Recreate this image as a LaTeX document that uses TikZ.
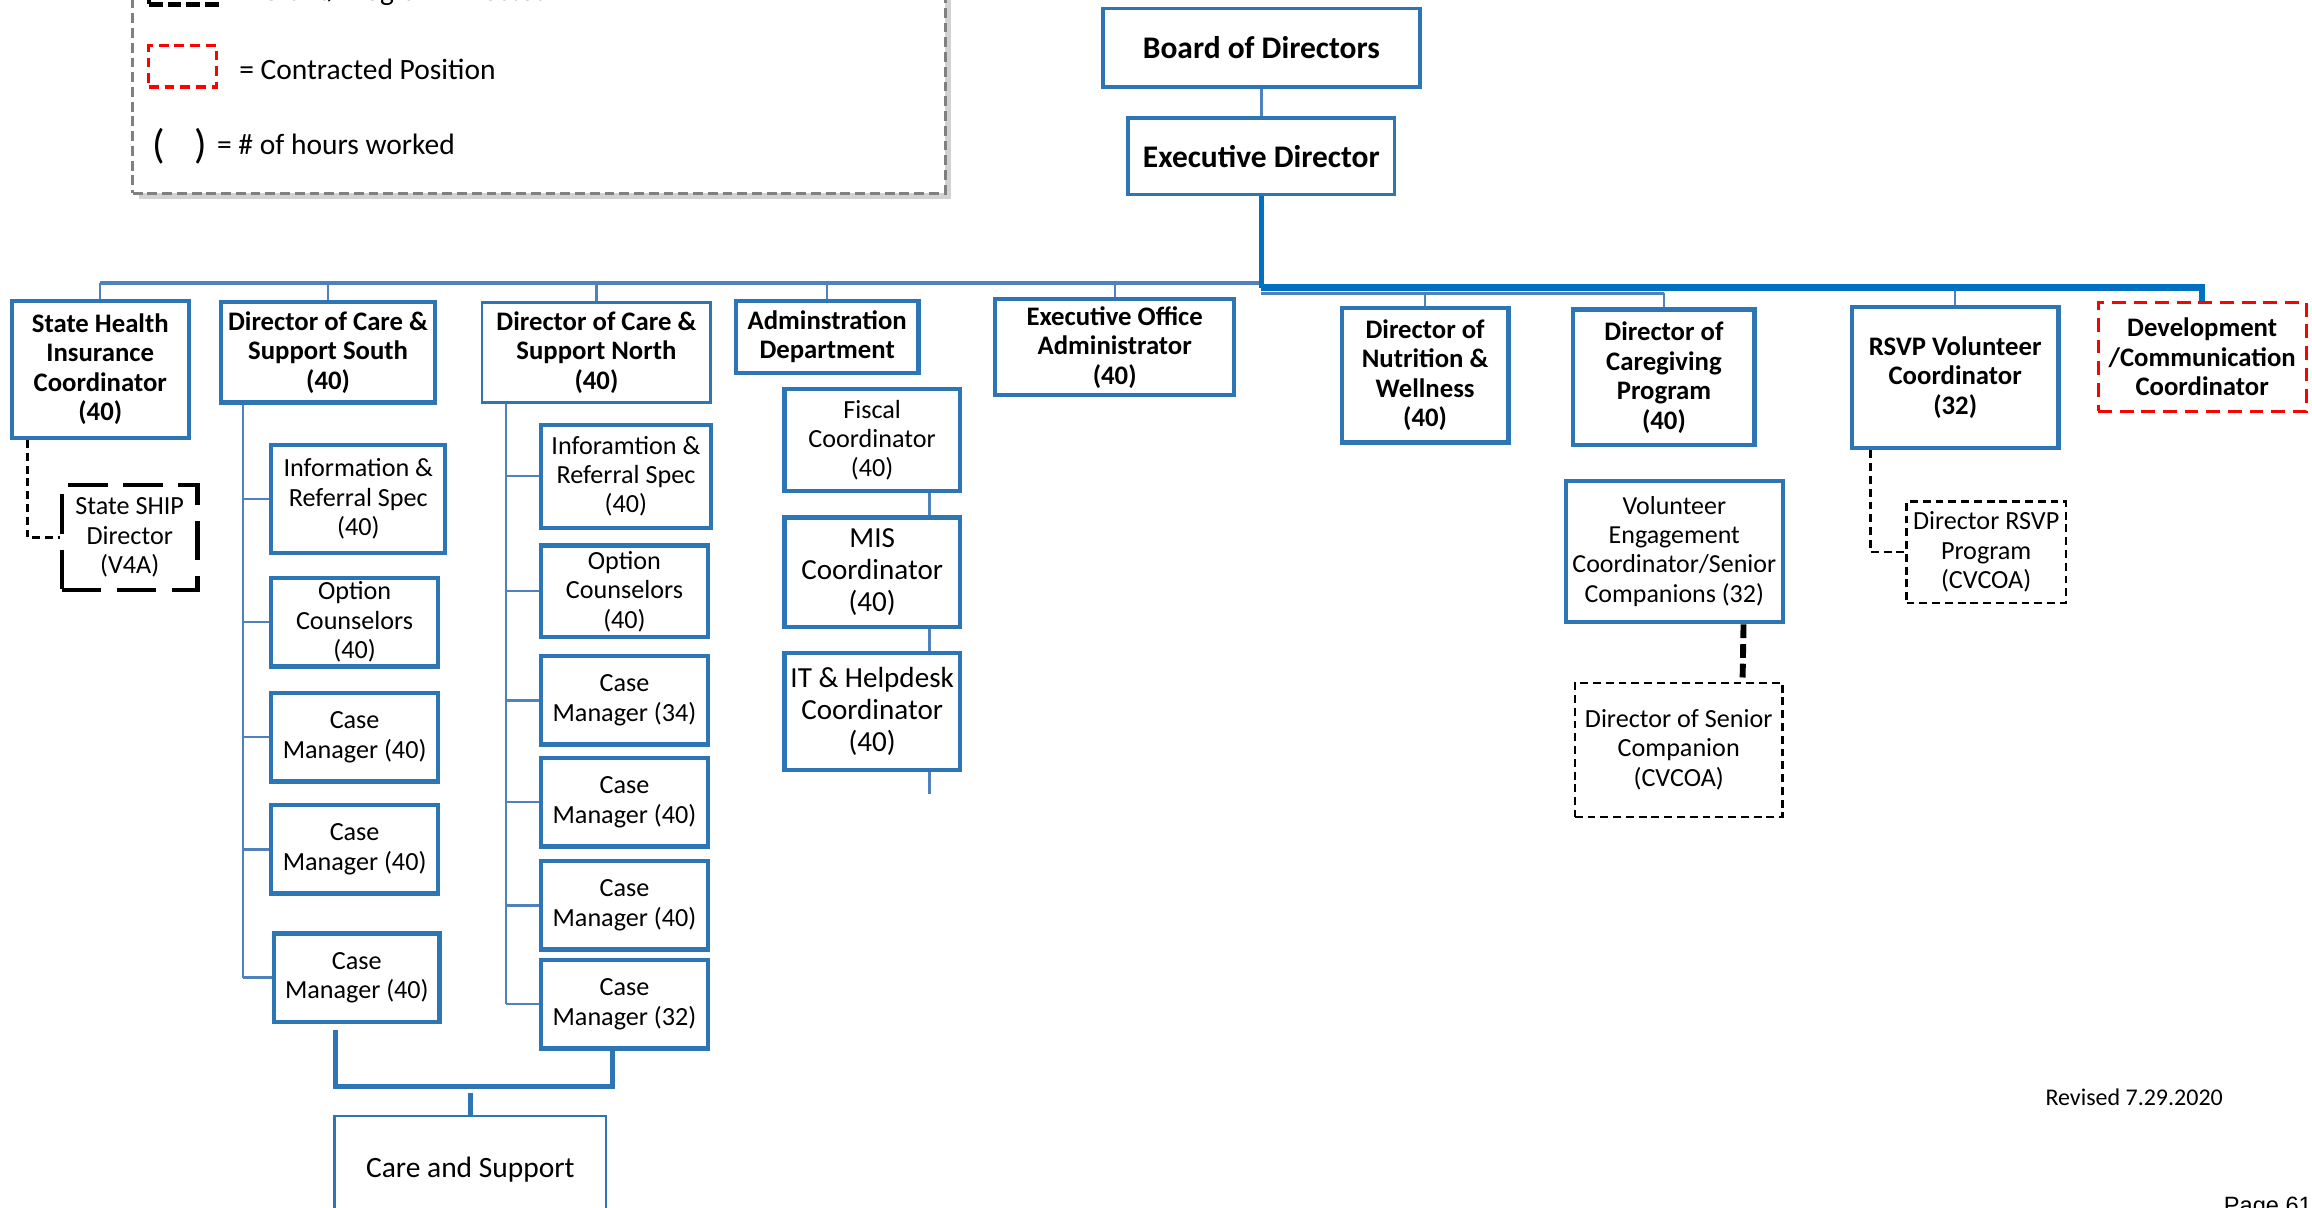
\documentclass[tikz,border=0pt]{standalone}
\usepackage{fontspec}
\setmainfont{Carlito}
\newfontfamily\arialf{Liberation Sans}
\usetikzlibrary{calc,shadows}
\definecolor{boxblue}{RGB}{46,117,182}
\definecolor{linkblue}{RGB}{79,129,189}
\definecolor{busblue}{RGB}{0,112,192}
\definecolor{leggray}{RGB}{128,128,128}
\begin{document}
\begin{tikzpicture}[x=0.75pt,y=-0.75pt,
  sz/.style 2 args={minimum width=#1*0.75pt, minimum height=#2*0.75pt},
  box/.style={draw=boxblue, line width=2.2pt, fill=white, align=center, inner sep=1pt,
    font=\fontsize{13.3}{15}\selectfont},
  thinbox/.style={box, line width=1.3pt},
  bbox/.style={box, font=\bfseries\fontsize{13.6}{15}\selectfont},
  topbox/.style={box, line width=1.6pt, font=\bfseries\fontsize{16}{18}\selectfont},
  grantbox/.style={draw=black, line width=1.2pt, dash pattern=on 4pt off 2.5pt, fill=white,
    align=center, inner sep=1pt, font=\fontsize{13.3}{15}\selectfont},
  contrbox/.style={draw=red, line width=1.6pt, dash pattern=on 7pt off 4pt, fill=white,
    align=center, inner sep=1pt, font=\bfseries\fontsize{13.6}{15}\selectfont},
  link/.style={draw=linkblue, line width=1.2pt},
  buslink/.style={draw=linkblue, line width=2pt},
  thickbus/.style={draw=busblue, line width=3.2pt},
  cslink/.style={draw=boxblue, line width=2.6pt},
  dlink/.style={draw=black, line width=1.2pt, dash pattern=on 4pt off 2.5pt},
  legtxt/.style={inner sep=0pt, font=\fontsize{15}{17}\selectfont},
]
\useasboundingbox (0,0) rectangle (1568,819);
\clip (0,0) rectangle (1568,819);

% legend
\node[draw=leggray, line width=1.5pt, dash pattern=on 5pt off 2.5pt, fill=white,
  drop shadow={shadow xshift=3pt, shadow yshift=-3pt, fill=black!35}, sz={551}{170}] (legend) at (365.5,46) {};
\node[draw=black, line width=2.2pt, dash pattern=on 7pt off 2.5pt, sz={46}{28}] (legG) at (124,-11) {};
\node[anchor=base west, legtxt] (legGt) at (162,0) {= Grant/Program Directed};
\node[draw=red, line width=1.6pt, dash pattern=on 5pt off 3pt, sz={46}{28}] (legC) at (124,45) {};
\node[anchor=base west, legtxt] (legCt) at (162,54) {= Contracted Position};
\node[font=\fontsize{21}{23}\selectfont, inner sep=0pt] (lp) at (108,99) {(};
\node[font=\fontsize{21}{23}\selectfont, inner sep=0pt] (rp) at (136,99) {)};
\node[anchor=base west, legtxt] (legHt) at (147,105) {= \# of hours worked};

% top
\node[topbox, sz={215}{53}] (board) at (855.5,32.5) {Board of Directors};
\node[topbox, sz={181}{52}] (exec) at (855.5,106) {Executive Director};

% level 2
\node[bbox, sz={120}{93}] (sh) at (68,250.5) {State Health\\Insurance\\Coordinator\\(40)};
\node[bbox, sz={145}{68}] (dsouth) at (222.5,239) {Director of Care \&\\Support South\\(40)};
\node[bbox, line width=1.3pt, sz={155}{68}] (dnorth) at (404.5,239) {Director of Care \&\\Support North\\(40)};
\node[bbox, sz={124}{49}] (admin) at (561,228.5) {Adminstration\\Department};
\node[bbox, sz={162}{65}] (eoa) at (756,235.5) {Executive Office\\Administrator\\(40)};
\node[bbox, sz={113}{91}] (nut) at (966.5,254.5) {Director of\\Nutrition \&\\Wellness\\(40)};
\node[bbox, sz={123}{92}] (cg) at (1128.5,256) {Director of\\Caregiving\\Program\\(40)};
\node[bbox, sz={140}{96}] (rsvp) at (1326,256) {RSVP Volunteer\\Coordinator\\(32)};
\node[contrbox, sz={141}{74}] (dev) at (1493.5,242) {Development\\/Communication\\Coordinator};

% south
\node[box, sz={118}{73}] (s1) at (243,338.5) {Information \&\\Referral Spec\\(40)};
\node[box, sz={113}{60}] (s2) at (240.5,422) {Option\\Counselors\\(40)};
\node[box, sz={113}{60}] (s3) at (240.5,500) {Case\\Manager (40)};
\node[box, sz={113}{60}] (s4) at (240.5,576) {Case\\Manager (40)};
\node[box, sz={112}{60}] (s5) at (242,663) {Case\\Manager (40)};

% north
\node[box, sz={115}{70}] (n1) at (424.5,323) {Inforamtion \&\\Referral Spec\\(40)};
\node[box, sz={113}{62}] (n2) at (423.5,401) {Option\\Counselors\\(40)};
\node[box, sz={113}{60}] (n3) at (423.5,475) {Case\\Manager (34)};
\node[box, sz={113}{60}] (n4) at (423.5,544) {Case\\Manager (40)};
\node[box, sz={113}{60}] (n5) at (423.5,614) {Case\\Manager (40)};
\node[box, sz={113}{60}] (n6) at (423.5,681) {Case\\Manager (32)};

% admin
\node[box, sz={119}{69}, font=\fontsize{13.3}{14.6}\selectfont] (a1) at (591.5,298.5) {Fiscal\\Coordinator\\(40)};
\node[box, sz={119}{74}, font=\fontsize{14.8}{16.5}\selectfont] (a2) at (591.5,388) {MIS\\Coordinator\\(40)};
\node[box, sz={119}{79}, font=\fontsize{14.8}{16.5}\selectfont, inner sep=0pt] (a3) at (591.5,482.5) {IT \& Helpdesk\\Coordinator\\(40)};

% dashed / others
\node[grantbox, line width=2.2pt, dash pattern=on 20pt off 8pt, sz={92}{71}] (ship) at (88,364.5) {State SHIP\\Director\\(V4A)};
\node[box, sz={147}{96}, font=\fontsize{13.2}{14.8}\selectfont] (vol) at (1135.5,374) {Volunteer\\Engagement\\Coordinator/Senior\\Companions (32)};
\node[grantbox, sz={141}{91}] (senior) at (1138.5,508.5) {Director of Senior\\Companion\\(CVCOA)};
\node[grantbox, sz={108}{69}, inner sep=0pt] (rsvpdir) at (1347,374.5) {Director RSVP\\Program\\(CVCOA)};
\node[thinbox, sz={184}{73}, font=\fontsize{15}{17}\selectfont] (cs) at (319,793.5) {Care and Support};

% footer
\node[anchor=base west, inner sep=0pt, font=\fontsize{12.2}{14}\selectfont] (rev) at (1387,750) {Revised 7.29.2020};
\node[anchor=base west, inner sep=0pt, font=\arialf\fontsize{12}{14}\selectfont] (page) at (1508,823) {Page 61 of};

% connectors top
\coordinate (busL) at (0,192);
\coordinate (busR) at (0,195);
\coordinate (busS) at (0,199);
\draw[link] (board.south) -- (exec.north);
\draw[buslink] (sh.north |- busL) -- (exec.south |- busL);
\foreach \n in {sh,dsouth,dnorth,admin,eoa}{
  \draw[link] (\n.north) -- (\n.north |- busL);
}
\draw[link] (exec.south |- busS) -- (cg.north |- busS);
\draw[link] (nut.north) -- (nut.north |- busS);
\draw[link] (cg.north) -- (cg.north |- busS);
\draw[link] (rsvp.north) -- (rsvp.north |- busR);
\draw[thickbus] (exec.south |- busR) -| (dev.north);
\draw[draw=busblue, line width=2.4pt] (exec.south) -- (exec.south |- busR);

% south spine
\coordinate (sspine) at (165,0);
\draw[link] (dsouth.south -| sspine) -- (s5.west -| sspine);
\foreach \n in {s1,s2,s3,s4,s5}{
  \draw[link] (\n.west) -- (\n.west -| sspine);
}
% north spine
\coordinate (nspine) at (343,0);
\draw[link] (dnorth.south -| nspine) -- (n6.west -| nspine);
\foreach \n in {n1,n2,n3,n4,n5,n6}{
  \draw[link] (\n.west) -- (\n.west -| nspine);
}
% admin chain
\draw[link] ($(a1.south east)+(-22,0)$) -- ($(a2.north east)+(-22,0)$);
\draw[link] ($(a2.south east)+(-22,0)$) -- ($(a3.north east)+(-22,0)$);
\draw[link] ($(a3.south east)+(-22,0)$) -- ++(0,15);

% care and support
\coordinate (csbar) at (319,737);
\draw[cslink] ($(s5.south west)+(43,4)$) |- (csbar) -| ($(n6.south west)+(50,0)$);
\draw[cslink] (cs.north) -- ($(csbar)+(0,4)$);

% dashed relations
\draw[dlink] ($(sh.south west)+(12,0)$) |- (ship.west);
\draw[dlink] ($(rsvp.south west)+(14,0)$) |- (rsvpdir.west);
\draw[draw=black, line width=3pt, dash pattern=on 7pt off 3pt] ($(vol.south east)+(-28,0)$) -- ($(senior.north east)+(-28,0)$);
\end{tikzpicture}
\end{document}
